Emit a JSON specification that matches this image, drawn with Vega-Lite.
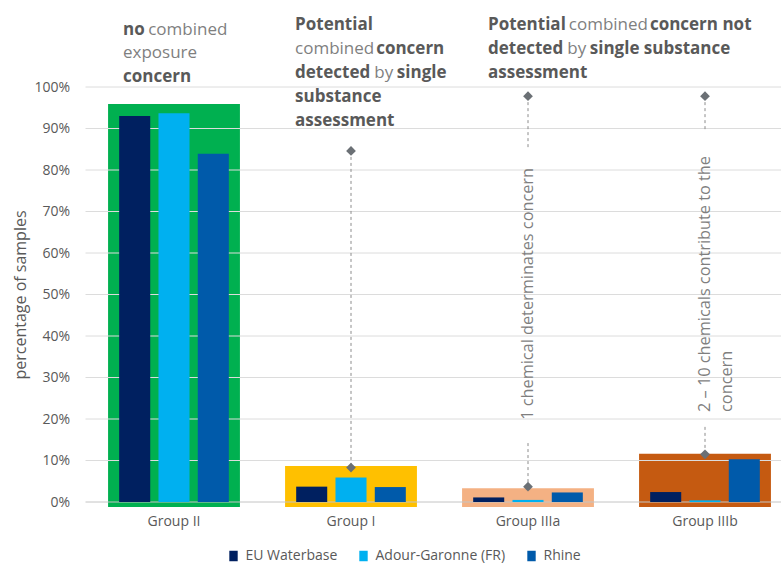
{
  "$schema": "https://vega.github.io/schema/vega-lite/v6.json",
  "width": 695.5,
  "height": 415,
  "autosize": {"type": "none"},
  "padding": {"left": 85.5, "top": 87, "right": 0, "bottom": 62},
  "background": "white",
  "config": {
    "font": "Open Sans",
    "view": {"stroke": null},
    "axisY": {"grid": false, "domain": false, "ticks": false, "labelPadding": 16, "labelFontSize": 14, "labelColor": "#595959", "titleFontSize": 16, "titleFontWeight": "normal", "titleColor": "#595959", "titlePadding": 5, "tickCount": 10},
    "axisX": {"grid": false, "domain": false, "ticks": false, "labelPadding": 12, "labelFontSize": 14, "labelColor": "#595959", "labelAngle": 0}
  },
  "datasets": {
    "bars": [
      {"g": "Group II", "s": "EU Waterbase", "v": 0.930},
      {"g": "Group II", "s": "Adour-Garonne (FR)", "v": 0.937},
      {"g": "Group II", "s": "Rhine", "v": 0.839},
      {"g": "Group I", "s": "EU Waterbase", "v": 0.037},
      {"g": "Group I", "s": "Adour-Garonne (FR)", "v": 0.059},
      {"g": "Group I", "s": "Rhine", "v": 0.036},
      {"g": "Group IIIa", "s": "EU Waterbase", "v": 0.011},
      {"g": "Group IIIa", "s": "Adour-Garonne (FR)", "v": 0.005},
      {"g": "Group IIIa", "s": "Rhine", "v": 0.023},
      {"g": "Group IIIb", "s": "EU Waterbase", "v": 0.024},
      {"g": "Group IIIb", "s": "Adour-Garonne (FR)", "v": 0.004},
      {"g": "Group IIIb", "s": "Rhine", "v": 0.103}
    ],
    "boxes": [
      {"g": "Group II", "top": 0.959, "bot": -0.012},
      {"g": "Group I", "top": 0.087, "bot": -0.012},
      {"g": "Group IIIa", "top": 0.033, "bot": -0.012},
      {"g": "Group IIIb", "top": 0.116, "bot": -0.012}
    ],
    "grid": [
      {"v": 0}, {"v": 0.1}, {"v": 0.2}, {"v": 0.3}, {"v": 0.4}, {"v": 0.5},
      {"v": 0.6}, {"v": 0.7}, {"v": 0.8}, {"v": 0.9}, {"v": 1.0}
    ],
    "leaders": [
      {"g": "Group I", "a": 0.846, "b": 0.083},
      {"g": "Group IIIa", "a": 0.978, "b": 0.848},
      {"g": "Group IIIa", "a": 0.142, "b": 0.037},
      {"g": "Group IIIb", "a": 0.978, "b": 0.892},
      {"g": "Group IIIb", "a": 0.181, "b": 0.115}
    ],
    "markers": [
      {"g": "Group I", "v": 0.846},
      {"g": "Group I", "v": 0.083},
      {"g": "Group IIIa", "v": 0.978},
      {"g": "Group IIIa", "v": 0.037},
      {"g": "Group IIIb", "v": 0.978},
      {"g": "Group IIIb", "v": 0.115}
    ],
    "notes": [
      {"g": "Group IIIa", "v": 0.198, "t": "1 chemical determinates concern"},
      {"g": "Group IIIb", "v": 0.217, "t": "2 – 10 chemicals contribute to the\nconcern"}
    ],
    "heads": [
      {"g": "Group II", "v": 1.137, "t": "no", "b": true, "pb": "", "pr": ""},
      {"g": "Group II", "v": 1.137, "t": "combined", "b": false, "pb": "no ", "pr": ""},
      {"g": "Group II", "v": 1.081, "t": "exposure", "b": false, "pb": "", "pr": ""},
      {"g": "Group II", "v": 1.023, "t": "concern", "b": true, "pb": "", "pr": ""},
      {"g": "Group I", "v": 1.149, "t": "Potential", "b": true, "pb": "", "pr": ""},
      {"g": "Group I", "v": 1.092, "t": "combined", "b": false, "pb": "", "pr": ""},
      {"g": "Group I", "v": 1.092, "t": "concern", "b": true, "pb": "", "pr": "combined "},
      {"g": "Group I", "v": 1.034, "t": "detected", "b": true, "pb": "", "pr": ""},
      {"g": "Group I", "v": 1.034, "t": "by", "b": false, "pb": "detected ", "pr": ""},
      {"g": "Group I", "v": 1.034, "t": "single", "b": true, "pb": "detected ", "pr": "by "},
      {"g": "Group I", "v": 0.976, "t": "substance", "b": true, "pb": "", "pr": ""},
      {"g": "Group I", "v": 0.918, "t": "assessment", "b": true, "pb": "", "pr": ""},
      {"g": "Group IIIa", "v": 1.149, "t": "Potential", "b": true, "pb": "", "pr": ""},
      {"g": "Group IIIa", "v": 1.149, "t": "combined", "b": false, "pb": "Potential ", "pr": ""},
      {"g": "Group IIIa", "v": 1.149, "t": "concern not", "b": true, "pb": "Potential ", "pr": "combined "},
      {"g": "Group IIIa", "v": 1.092, "t": "detected", "b": true, "pb": "", "pr": ""},
      {"g": "Group IIIa", "v": 1.092, "t": "by", "b": false, "pb": "detected ", "pr": ""},
      {"g": "Group IIIa", "v": 1.092, "t": "single substance", "b": true, "pb": "detected ", "pr": "by "},
      {"g": "Group IIIa", "v": 1.034, "t": "assessment", "b": true, "pb": "", "pr": ""}
    ]
  },
  "layer": [
    {
      "data": {"name": "boxes"},
      "mark": {"type": "bar", "width": {"band": 0.745}},
      "encoding": {
        "x": {"field": "g", "type": "nominal", "title": null, "sort": ["Group II", "Group I", "Group IIIa", "Group IIIb"], "scale": {"domain": ["Group II", "Group I", "Group IIIa", "Group IIIb"], "range": [0, 708], "paddingInner": 0, "paddingOuter": 0}},
        "y": {"field": "top", "type": "quantitative", "title": "percentage of samples", "scale": {"domain": [0, 1], "nice": false}, "axis": {"format": ".0%"}},
        "y2": {"field": "bot"},
        "fill": {"field": "g", "type": "nominal", "legend": null, "scale": {"domain": ["Group II", "Group I", "Group IIIa", "Group IIIb"], "range": ["#00b050", "#ffc000", "#f4b183", "#c55a11"]}}
      }
    },
    {
      "data": {"name": "grid"},
      "mark": {"type": "rule", "strokeWidth": 1},
      "encoding": {
        "y": {"field": "v", "type": "quantitative", "title": "percentage of samples", "axis": {"format": ".0%"}},
        "color": {"condition": {"test": "datum.v === 0", "value": "#c4c4c4"}, "value": "#dcdcdc"}
      }
    },
    {
      "data": {"name": "bars"},
      "mark": {"type": "bar"},
      "encoding": {
        "x": {"field": "g", "type": "nominal", "title": null},
        "xOffset": {"field": "s", "type": "nominal", "sort": ["EU Waterbase", "Adour-Garonne (FR)", "Rhine"], "scale": {"domain": ["EU Waterbase", "Adour-Garonne (FR)", "Rhine"], "paddingInner": 0.21, "paddingOuter": 0.857}},
        "y": {"field": "v", "type": "quantitative", "title": "percentage of samples", "axis": {"format": ".0%"}},
        "color": {"field": "s", "type": "nominal", "sort": ["EU Waterbase", "Adour-Garonne (FR)", "Rhine"],
          "scale": {"domain": ["EU Waterbase", "Adour-Garonne (FR)", "Rhine"], "range": ["#002060", "#00b0f0", "#005aaa"]},
          "legend": {"orient": "none", "legendX": 141, "legendY": 462, "direction": "horizontal", "title": null, "symbolType": "M-0.8,-1H0.8V1H-0.8Z", "symbolSize": 110, "symbolStrokeWidth": 0, "labelFontSize": 14, "labelColor": "#595959", "columnPadding": 19, "labelOffset": 5}}
      }
    },
    {
      "data": {"name": "leaders"},
      "mark": {"type": "rule", "strokeDash": [3, 3], "strokeWidth": 1, "color": "#8c8c8c"},
      "encoding": {
        "x": {"field": "g", "type": "nominal", "title": null},
        "y": {"field": "a", "type": "quantitative", "title": "percentage of samples", "axis": {"format": ".0%"}},
        "y2": {"field": "b"}
      }
    },
    {
      "data": {"name": "markers"},
      "mark": {"type": "point", "shape": "diamond", "filled": true, "size": 95, "opacity": 1, "color": "#6b7075"},
      "encoding": {
        "x": {"field": "g", "type": "nominal", "title": null},
        "y": {"field": "v", "type": "quantitative", "title": "percentage of samples", "axis": {"format": ".0%"}}
      }
    },
    {
      "data": {"name": "notes"},
      "mark": {"type": "text", "angle": 270, "align": "left", "baseline": "middle", "fontSize": 16.3, "lineBreak": "\n", "lineHeight": 22, "color": "#7f7f7f"},
      "encoding": {
        "x": {"field": "g", "type": "nominal", "title": null},
        "y": {"field": "v", "type": "quantitative", "title": "percentage of samples", "axis": {"format": ".0%"}},
        "text": {"field": "t"}
      }
    },
    {
      "data": {"name": "heads"},
      "transform": [{"filter": "datum.g === 'Group II'"}],
      "mark": {"type": "text", "align": "left", "baseline": "middle", "fontSize": 17, "fontWeight": {"expr": "datum.b ? 'bold' : 'normal'"}, "fill": {"expr": "datum.b ? '#595959' : '#7f7f7f'"}, "dx": {"expr": "length(datum.pb)*10.4 - (length(datum.pb)-length(replace(datum.pb,regexp('t','g'),'')))*3.3 - (length(datum.pb)-length(replace(datum.pb,regexp('[il]','g'),'')))*5.3 - (length(datum.pb)-length(replace(datum.pb,regexp(' ','g'),'')))*6 - (length(datum.pb)-length(replace(datum.pb,regexp('c','g'),'')))*1.7 + length(datum.pr)*9.6 - (length(datum.pr)-length(replace(datum.pr,regexp('i','g'),'')))*5.5 + (length(datum.pr)-length(replace(datum.pr,regexp('m','g'),'')))*5.4 - (length(datum.pr)-length(replace(datum.pr,regexp('y','g'),'')))*1.1 - (length(datum.pr)-length(replace(datum.pr,regexp(' ','g'),'')))*5.2"}},
      "encoding": {
        "x": {"field": "g", "type": "nominal", "title": null, "bandPosition": 0.212},
        "y": {"field": "v", "type": "quantitative", "title": "percentage of samples", "axis": {"format": ".0%"}},
        "text": {"field": "t"}
      }
    },
    {
      "data": {"name": "heads"},
      "transform": [{"filter": "datum.g === 'Group I'"}],
      "mark": {"type": "text", "align": "left", "baseline": "middle", "fontSize": 17, "fontWeight": {"expr": "datum.b ? 'bold' : 'normal'"}, "fill": {"expr": "datum.b ? '#595959' : '#7f7f7f'"}, "dx": {"expr": "length(datum.pb)*10.4 - (length(datum.pb)-length(replace(datum.pb,regexp('t','g'),'')))*3.3 - (length(datum.pb)-length(replace(datum.pb,regexp('[il]','g'),'')))*5.3 - (length(datum.pb)-length(replace(datum.pb,regexp(' ','g'),'')))*6 - (length(datum.pb)-length(replace(datum.pb,regexp('c','g'),'')))*1.7 + length(datum.pr)*9.6 - (length(datum.pr)-length(replace(datum.pr,regexp('i','g'),'')))*5.5 + (length(datum.pr)-length(replace(datum.pr,regexp('m','g'),'')))*5.4 - (length(datum.pr)-length(replace(datum.pr,regexp('y','g'),'')))*1.1 - (length(datum.pr)-length(replace(datum.pr,regexp(' ','g'),'')))*5.2"}},
      "encoding": {
        "x": {"field": "g", "type": "nominal", "title": null, "bandPosition": 0.184},
        "y": {"field": "v", "type": "quantitative", "title": "percentage of samples", "axis": {"format": ".0%"}},
        "text": {"field": "t"}
      }
    },
    {
      "data": {"name": "heads"},
      "transform": [{"filter": "datum.g === 'Group IIIa'"}],
      "mark": {"type": "text", "align": "left", "baseline": "middle", "fontSize": 17, "fontWeight": {"expr": "datum.b ? 'bold' : 'normal'"}, "fill": {"expr": "datum.b ? '#595959' : '#7f7f7f'"}, "dx": {"expr": "length(datum.pb)*10.4 - (length(datum.pb)-length(replace(datum.pb,regexp('t','g'),'')))*3.3 - (length(datum.pb)-length(replace(datum.pb,regexp('[il]','g'),'')))*5.3 - (length(datum.pb)-length(replace(datum.pb,regexp(' ','g'),'')))*6 - (length(datum.pb)-length(replace(datum.pb,regexp('c','g'),'')))*1.7 + length(datum.pr)*9.6 - (length(datum.pr)-length(replace(datum.pr,regexp('i','g'),'')))*5.5 + (length(datum.pr)-length(replace(datum.pr,regexp('m','g'),'')))*5.4 - (length(datum.pr)-length(replace(datum.pr,regexp('y','g'),'')))*1.1 - (length(datum.pr)-length(replace(datum.pr,regexp(' ','g'),'')))*5.2"}},
      "encoding": {
        "x": {"field": "g", "type": "nominal", "title": null, "bandPosition": 0.274},
        "y": {"field": "v", "type": "quantitative", "title": "percentage of samples", "axis": {"format": ".0%"}},
        "text": {"field": "t"}
      }
    }
  ]
}
